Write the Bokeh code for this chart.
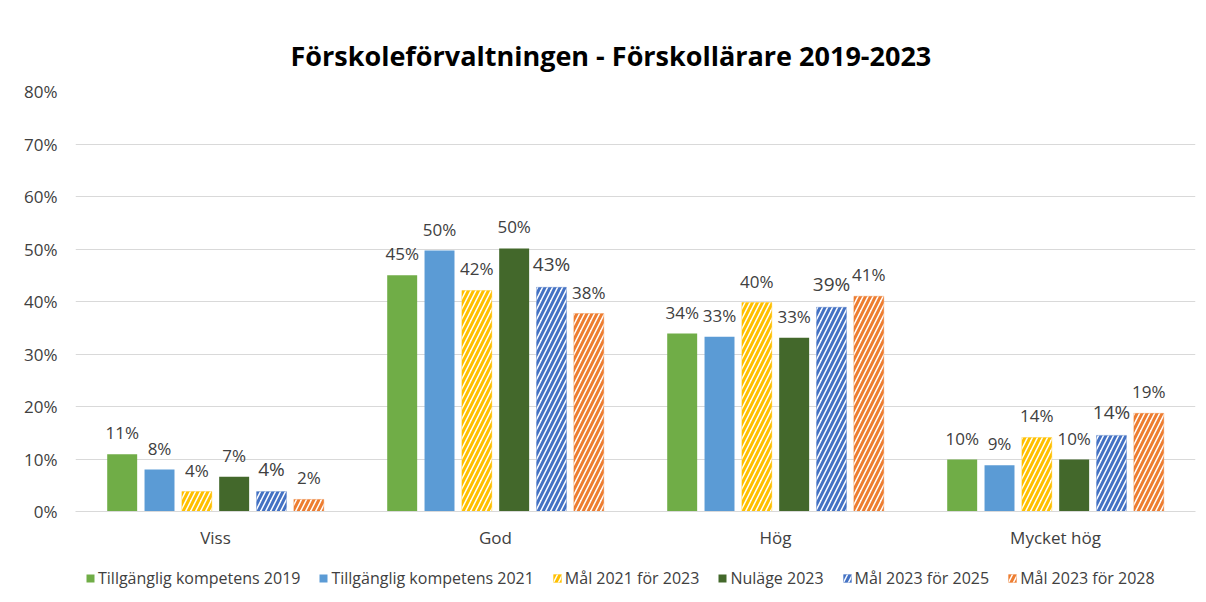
from bokeh.plotting import figure
from bokeh.layouts import column
from bokeh.models import ColumnDataSource, FactorRange, FixedTicker, PrintfTickFormatter, Legend, LegendItem
from bokeh.core.properties import value
from bokeh.transform import dodge
from bokeh.embed import file_html
from bokeh.resources import INLINE

categories = ["Viss", "God", "Hög", "Mycket hög"]
series_names = ["Tillgänglig kompetens 2019", "Tillgänglig kompetens 2021", "Mål 2021 för 2023",
                "Nuläge 2023", "Mål 2023 för 2025", "Mål 2023 för 2028"]
tillg_2019 = [10.9, 45.0, 33.9, 9.9]
tillg_2021 = [8.0, 49.7, 33.3, 8.8]
mal_2021_2023 = [3.8, 42.1, 39.8, 14.1]
nulage_2023 = [6.6, 50.1, 33.1, 9.9]
mal_2023_2025 = [3.8, 42.7, 38.9, 14.5]
mal_2023_2028 = [2.3, 37.7, 41.0, 18.7]
series_values = [tillg_2019, tillg_2021, mal_2021_2023, nulage_2023, mal_2023_2025, mal_2023_2028]
colors = ["#70AD47", "#5B9BD5", "#FFC000", "#43682B", "#4472C4", "#ED7D31"]
hatched = [False, False, True, False, True, True]
y_ticks = [0, 10, 20, 30, 40, 50, 60, 70, 80]

FONT = "Open Sans"
TXT = "#404040"

p = figure(x_range=FactorRange(*categories, range_padding=0), y_range=(0, 80),
           width=1200, height=556, output_backend="svg", toolbar_location=None,
           min_border_left=75, min_border_right=5, min_border_top=91, min_border_bottom=45)

p.title.text = "Förskoleförvaltningen - Förskollärare 2019-2023"
p.title.align = "left"
p.title.offset = 215
p.title.text_font = FONT
p.title.text_font_size = "27px"
p.title.text_font_style = "bold"
p.title.text_color = "#000000"
p.title.standoff = 36

p.outline_line_color = None
p.xgrid.grid_line_color = None
p.ygrid.grid_line_color = "#d9d9d9"
p.ygrid.grid_line_width = 1
p.yaxis.ticker = FixedTicker(ticks=y_ticks)
p.yaxis.formatter = PrintfTickFormatter(format="%d%%")
p.yaxis.axis_line_color = None
p.yaxis.major_label_standoff = 18
p.xaxis.axis_line_color = "#d9d9d9"
p.xaxis.major_label_standoff = 14
for ax in (p.xaxis, p.yaxis):
    ax.major_tick_line_color = None
    ax.minor_tick_line_color = None
    ax.major_tick_out = 0
    ax.major_tick_in = 0
    ax.major_label_text_font = FONT
    ax.major_label_text_font_size = "17px"
    ax.major_label_text_color = TXT

step = 0.1333
width = 0.107

# legend-only figure below the chart (its bars lie outside its visible y range)
lf = figure(width=1200, height=44, x_range=FactorRange(*categories, range_padding=0),
            y_range=(1000, 1001), output_backend="svg",
            toolbar_location=None, x_axis_type=None, y_axis_type=None, min_border=0)
lf.outline_line_color = None
lf.grid.grid_line_color = None

items = []
for i, (name, vals, col, h) in enumerate(zip(series_names, series_values, colors, hatched)):
    src = ColumnDataSource(dict(cat=categories, v=vals, lab=[f"{round(v)}%" for v in vals]))
    off = (i - 2.5) * step
    if h:
        style = dict(fill_color="white", line_color=col, line_alpha=0.35, line_width=1,
                     hatch_pattern="/", hatch_color=col, hatch_weight=3, hatch_scale=10)
    else:
        style = dict(fill_color=col, line_color=None)
    p.vbar(x=dodge("cat", off, range=p.x_range), top="v", width=width, source=src, **style)
    lr = lf.vbar(x="cat", top="v", width=width, source=src, **style)
    items.append(LegendItem(label=name, renderers=[lr]))
    p.text(x=dodge("cat", off, range=p.x_range), y="v", text="lab", source=src,
           text_align="center", text_baseline="bottom", y_offset=-10,
           text_font=value(FONT), text_font_size="19px" if i == 4 else "17px", text_color=TXT)

legend = Legend(items=items, orientation="horizontal", location=(10, 11))
legend.label_text_font = FONT
legend.label_text_font_size = "16px"
legend.label_text_color = TXT
legend.glyph_width = 10
legend.glyph_height = 10
legend.label_standoff = 3
legend.spacing = 18
legend.padding = 0
legend.margin = 0
legend.border_line_color = None
legend.background_fill_alpha = 0
lf.add_layout(legend, "center")

layout = column(p, lf, spacing=0)
open("out.html", "w").write(file_html(layout, INLINE))
